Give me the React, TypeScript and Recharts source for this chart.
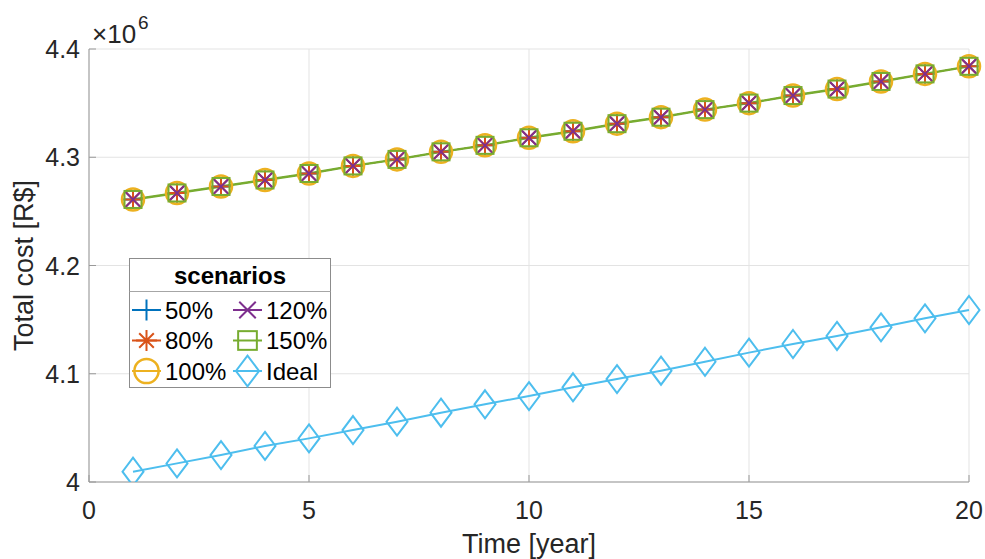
import { LineChart, Line, XAxis, YAxis, CartesianGrid, Legend, Label } from "recharts";

// years on the x axis
const years = [1, 2, 3, 4, 5, 6, 7, 8, 9, 10, 11, 12, 13, 14, 15, 16, 17, 18, 19, 20];

// all five scenarios overlap in the figure, so they share one reading
const scenarioCost = [
  4.261e6, 4.267e6, 4.273e6, 4.279e6, 4.285e6, 4.292e6, 4.298e6, 4.305e6, 4.311e6, 4.318e6,
  4.324e6, 4.331e6, 4.337e6, 4.344e6, 4.35e6, 4.357e6, 4.363e6, 4.37e6, 4.377e6, 4.384e6,
];

const idealCost = [
  4.0095e6, 4.0172e6, 4.0249e6, 4.0333e6, 4.0403e6, 4.048e6, 4.0557e6, 4.064e6, 4.0718e6, 4.0794e6,
  4.0875e6, 4.0951e6, 4.1028e6, 4.1111e6, 4.1195e6, 4.1275e6, 4.1349e6, 4.1429e6, 4.1512e6, 4.1589e6,
];

const seriesNames = ["50%", "80%", "100%", "120%", "150%", "Ideal"];
const xTicks = [0, 5, 10, 15, 20];
const yTicks = [4.0e6, 4.1e6, 4.2e6, 4.3e6, 4.4e6];

type Shape = "plus" | "star" | "circle" | "cross" | "square" | "diamond";

// the first four scenario lines sit under the 150% line, so they are drawn thin
const SERIES: { key: string; name: string; color: string; shape: Shape; values: number[]; width: number }[] = [
  { key: "s50", name: seriesNames[0], color: "#0072BD", shape: "plus", values: scenarioCost, width: 1 },
  { key: "s80", name: seriesNames[1], color: "#D95319", shape: "star", values: scenarioCost, width: 1 },
  { key: "s100", name: seriesNames[2], color: "#EDB120", shape: "circle", values: scenarioCost, width: 1 },
  { key: "s120", name: seriesNames[3], color: "#7E2F8E", shape: "cross", values: scenarioCost, width: 1 },
  { key: "s150", name: seriesNames[4], color: "#77AC30", shape: "square", values: scenarioCost, width: 2.4 },
  { key: "ideal", name: seriesNames[5], color: "#4DBEEE", shape: "diamond", values: idealCost, width: 2 },
];

const data = years.map((year, i) => {
  const row: Record<string, number> = { year };
  SERIES.forEach((s) => {
    row[s.key] = s.values[i];
  });
  return row;
});

const FONT = '"Liberation Sans", Arial, Helvetica, sans-serif';
const AXIS = "#999999";
const TEXT = "#262626";

function Marker({ shape, cx, cy, color, k = 1 }: { shape: Shape; cx: number; cy: number; color: string; k?: number }) {
  const p = { stroke: color, strokeWidth: 2, fill: "none" };
  if (shape === "plus") {
    const s = 9.5 * k;
    return <path d={`M${cx - s},${cy}H${cx + s}M${cx},${cy - s}V${cy + s}`} {...p} />;
  }
  if (shape === "star") {
    const s = 9.5 * k;
    const d = s * 0.7;
    return (
      <path
        d={`M${cx - s},${cy}H${cx + s}M${cx},${cy - s}V${cy + s}M${cx - d},${cy - d}L${cx + d},${cy + d}M${cx - d},${cy + d}L${cx + d},${cy - d}`}
        {...p}
      />
    );
  }
  if (shape === "circle") return <circle cx={cx} cy={cy} r={11 * k} {...p} strokeWidth={2.5} />;
  if (shape === "cross") {
    const s = 7.5 * k;
    return <path d={`M${cx - s},${cy - s}L${cx + s},${cy + s}M${cx - s},${cy + s}L${cx + s},${cy - s}`} {...p} />;
  }
  if (shape === "square") {
    const s = 8.5 * k;
    return <rect x={cx - s} y={cy - s} width={2 * s} height={2 * s} {...p} />;
  }
  const w = 10.5 * k;
  const h = 14 * k;
  return <path d={`M${cx},${cy - h}L${cx + w},${cy}L${cx},${cy + h}L${cx - w},${cy}Z`} {...p} />;
}

const XTick = (props: any) => {
  const { x, y, payload } = props;
  return (
    <g>
      <line x1={x} y1={y} x2={x} y2={y - 7} stroke={AXIS} />
      <text x={x} y={y + 37} textAnchor="middle" fontSize={25} fill={TEXT} fontFamily={FONT}>
        {payload.value}
      </text>
    </g>
  );
};

const YTick = (props: any) => {
  const { x, y, payload } = props;
  return (
    <g>
      <line x1={x} y1={y} x2={x + 7} y2={y} stroke={AXIS} />
      <text x={x - 9} y={y + 9} textAnchor="end" fontSize={25} fill={TEXT} fontFamily={FONT}>
        {payload.value / 1e6}
      </text>
    </g>
  );
};

const renderLegend = () => (
  <svg width={203} height={131} style={{ display: "block" }}>
    <rect x={0.5} y={0.5} width={201} height={129} fill="#fff" stroke="#8c8c8c" />
    <line x1={0.5} x2={201.5} y1={33.5} y2={33.5} stroke="#a6a6a6" />
    <text x={101} y={26} textAnchor="middle" fontWeight="bold" fontSize={24} fontFamily={FONT} fill="#000">
      scenarios
    </text>
    {SERIES.map((s, i) => {
      const col = Math.floor(i / 3);
      const row = i % 3;
      const x0 = col === 0 ? 3 : 104;
      const cy = 52 + row * 30.5;
      return (
        <g key={s.key}>
          <line x1={x0} x2={x0 + 29} y1={cy} y2={cy} stroke={s.color} strokeWidth={2} />
          <Marker shape={s.shape} cx={x0 + 14.5} cy={cy} color={s.color} k={1.1} />
          <text x={x0 + 33} y={cy + 8.5} fontSize={24} fontFamily={FONT} fill="#000">
            {s.name}
          </text>
        </g>
      );
    })}
  </svg>
);

export default function App() {
  return (
    <div style={{ position: "absolute", left: 0, top: 0, width: 985, height: 559, background: "#fff", fontFamily: FONT }}>
      <LineChart width={985} height={559} data={data} margin={{ top: 49, right: 16, bottom: 0, left: 0 }}>
        <CartesianGrid stroke="#e3e3e3" />
        <XAxis
          dataKey="year"
          type="number"
          domain={[0, 20]}
          ticks={xTicks}
          height={77}
          tickSize={0}
          tickMargin={0}
          tickLine={false}
          axisLine={{ stroke: AXIS }}
          tick={<XTick />}
          interval={0}
        >
          <Label
            content={(p: any) => {
              const vb = p.viewBox;
              return (
                <text x={vb.x + vb.width / 2} y={vb.y + 71} textAnchor="middle" fontSize={27} fill={TEXT} fontFamily={FONT}>
                  Time [year]
                </text>
              );
            }}
          />
        </XAxis>
        <YAxis
          type="number"
          domain={[4.0e6, 4.4e6]}
          ticks={yTicks}
          width={89}
          tickSize={0}
          tickMargin={0}
          tickLine={false}
          axisLine={{ stroke: AXIS }}
          tick={<YTick />}
          interval={0}
          allowDataOverflow
        >
          <Label
            content={(p: any) => {
              const vb = p.viewBox;
              const cy = vb.y + vb.height / 2;
              return (
                <text x={33} y={cy} textAnchor="middle" fontSize={27} fill={TEXT} fontFamily={FONT} transform={`rotate(-90, 33, ${cy})`}>
                  Total cost [R$]
                </text>
              );
            }}
          />
        </YAxis>
        <Legend
          content={renderLegend}
          verticalAlign="middle"
          layout="horizontal"
          wrapperStyle={{ position: "absolute", left: 129, top: 258, width: 203, height: 131 }}
        />
        {SERIES.map((s) => (
          <Line
            key={s.key}
            type="linear"
            dataKey={s.key}
            name={s.name}
            stroke={s.color}
            strokeWidth={s.width}
            isAnimationActive={false}
            activeDot={false}
            dot={(props: any) => (
              <Marker key={`${s.key}-${props.index}`} shape={s.shape} cx={props.cx} cy={props.cy} color={s.color} />
            )}
          />
        ))}
      </LineChart>
      <svg width={200} height={50} style={{ position: "absolute", left: 0, top: 0, pointerEvents: "none" }}>
        <text x={92} y={43} fontSize={26} fill={TEXT} fontFamily={FONT}>
          ×10
          <tspan dx={2} dy={-14} fontSize={19}>
            6
          </tspan>
        </text>
      </svg>
    </div>
  );
}
